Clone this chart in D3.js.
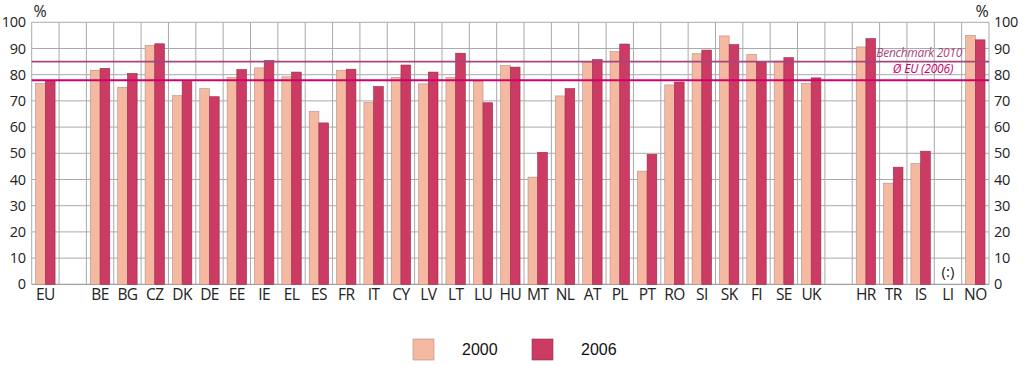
<!DOCTYPE html>
<html><head><meta charset="utf-8">
<script src="https://cdn.jsdelivr.net/npm/d3@7"></script>
<style>html,body{margin:0;padding:0;background:#fff;}svg{display:block;}</style>
</head><body>
<svg id="chart" width="1024" height="365"></svg>
<script>
const categories = ["EU","","BE","BG","CZ","DK","DE","EE","IE","EL","ES","FR","IT","CY","LV","LT","LU","HU","MT","NL","AT","PL","PT","RO","SI","SK","FI","SE","UK","","HR","TR","IS","LI","NO"];
const values2000 = [76.6,null,81.7,75.2,91.2,72.0,74.7,79.0,82.6,79.2,66.0,81.6,69.4,79.0,76.5,78.9,77.5,83.5,40.9,71.9,84.7,88.8,43.2,76.1,88.0,94.8,87.7,85.2,76.7,null,90.6,38.6,46.1,null,95.0];
const values2006 = [77.8,null,82.4,80.5,91.8,77.4,71.6,82.0,85.4,81.0,61.6,82.1,75.5,83.7,81.0,88.2,69.3,82.9,50.4,74.7,85.8,91.7,49.6,77.2,89.4,91.5,84.7,86.5,78.8,null,93.8,44.7,50.8,null,93.3];
const series = ["2000","2006"];
const yTicks = [0,10,20,30,40,50,60,70,80,90,100];
const benchmark = 85;
const euAverage = 77.9;
const refLabels = ["Benchmark 2010","Ø EU (2006)"];
const missingLabel = "(:)";

const colors = {"2000":"#f5b8a0","2006":"#cc3b63"};
const strokes = {"2000":"#b09088","2006":"#9a2c4a"};

const svg = d3.select("#chart");
const pLeft = 31.7, pRight = 989, pTop = 22.3, pBottom = 284.3;

const idx = categories.map((d,i)=>i);
const x = d3.scaleBand().domain(idx).range([pLeft,pRight]).padding(0);
const y = d3.scaleLinear().domain([0,100]).range([pBottom,pTop]);
const xs = d3.scaleBand().domain(series).range([0,x.bandwidth()]).paddingInner(0).paddingOuter(0.41);

const font = "'Open Sans', 'DejaVu Sans', sans-serif";

// grid
const g = svg.append("g");
g.selectAll("line.h").data(yTicks).join("line")
  .attr("x1",pLeft).attr("x2",pRight)
  .attr("y1",d=>y(d)).attr("y2",d=>y(d))
  .attr("stroke",d=>d===0?"#888":"#aaa").attr("stroke-width",1);
const bounds = idx.map(i=>x(i)).concat([pRight]);
g.selectAll("line.v").data(bounds).join("line")
  .attr("x1",d=>d).attr("x2",d=>d)
  .attr("y1",pTop).attr("y2",pBottom)
  .attr("stroke","#aaa").attr("stroke-width",1);

// bars
const data = [];
categories.forEach((c,i)=>{
  if(values2000[i]!=null) data.push({i,s:"2000",v:values2000[i]});
  if(values2006[i]!=null) data.push({i,s:"2006",v:values2006[i]});
});
svg.append("g").selectAll("rect").data(data).join("rect")
  .attr("x",d=>x(d.i)+xs(d.s))
  .attr("width",xs.bandwidth())
  .attr("y",d=>y(d.v))
  .attr("height",d=>y(0)-y(d.v))
  .attr("fill",d=>colors[d.s])
  .attr("stroke",d=>strokes[d.s]).attr("stroke-width",0.6);

// reference lines
svg.append("line").attr("x1",pLeft).attr("x2",pRight)
  .attr("y1",y(benchmark)).attr("y2",y(benchmark))
  .attr("stroke","#a8457f").attr("stroke-width",1.6);
svg.append("line").attr("x1",pLeft).attr("x2",pRight)
  .attr("y1",y(euAverage)).attr("y2",y(euAverage))
  .attr("stroke","#d0006c").attr("stroke-width",2);
svg.append("text").text(refLabels[0])
  .attr("x",962).attr("y",y(benchmark)-4.3)
  .attr("text-anchor","end").attr("font-style","italic")
  .attr("font-family",font).attr("font-size",12).attr("letter-spacing",-0.3).attr("fill","#a8457f");
svg.append("text").text(refLabels[1])
  .attr("x",923).attr("y",y(euAverage)-7)
  .attr("text-anchor","middle").attr("font-style","italic")
  .attr("font-family",font).attr("font-size",12).attr("letter-spacing",-0.2).attr("fill","#c8006a");

// missing label
const liIdx = categories.indexOf("LI");
svg.append("text").text(missingLabel)
  .attr("x",x(liIdx)+x.bandwidth()/2).attr("y",y(0)-7.5)
  .attr("text-anchor","middle").attr("font-family",font).attr("font-size",15).attr("fill","#222");

// axes
const yl = d3.axisLeft(y).tickValues(yTicks).tickSize(0).tickPadding(6);
const yr = d3.axisRight(y).tickValues(yTicks).tickSize(0).tickPadding(5);
const ga = svg.append("g").attr("transform",`translate(${pLeft},0)`).call(yl);
const gb = svg.append("g").attr("transform",`translate(${pRight},0)`).call(yr);
[ga,gb].forEach(a=>{
  a.select(".domain").remove();
  a.selectAll("text").attr("font-family",font).attr("font-size",14.5).attr("letter-spacing",-0.3).attr("fill","#222");
});
const xa = d3.axisBottom(x).tickSize(0).tickPadding(5).tickFormat(i=>categories[i]);
const gx = svg.append("g").attr("transform",`translate(0,${pBottom})`).call(xa);
gx.select(".domain").remove();
gx.selectAll("text").attr("font-family",font).attr("font-size",15.5).attr("letter-spacing",-0.6).attr("fill","#222");

svg.append("text").text("%").attr("x",40).attr("y",17).attr("text-anchor","middle")
  .attr("font-family",font).attr("font-size",16).attr("fill","#222");
svg.append("text").text("%").attr("x",982).attr("y",17).attr("text-anchor","middle")
  .attr("font-family",font).attr("font-size",16).attr("fill","#222");

// legend
const legX = [413, 532];
const lg = svg.append("g");
series.forEach((s,k)=>{
  lg.append("rect").attr("x",legX[k]).attr("y",339).attr("width",21).attr("height",21)
    .attr("fill",colors[s]).attr("stroke",strokes[s]).attr("stroke-width",0.6);
  lg.append("text").text(s).attr("x",legX[k]+49).attr("y",355)
    .attr("font-family","'Liberation Sans', Arial, sans-serif").attr("font-size",16).attr("fill","#111");
});
</script>
</body></html>
